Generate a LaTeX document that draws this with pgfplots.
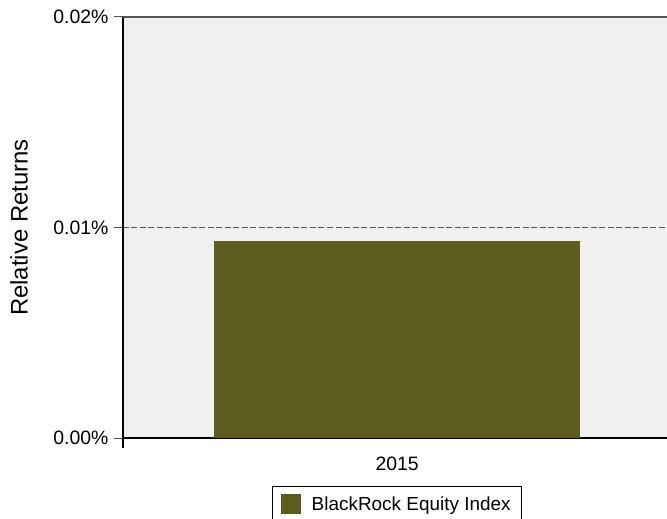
\documentclass[border=0pt]{standalone}
\usepackage{pgfplots}
\pgfplotsset{compat=1.18}
\usepackage{fontspec}
\setmainfont{Liberation Sans}

\definecolor{barolive}{RGB}{93,93,32}
\definecolor{plotbg}{RGB}{240,240,240}
\definecolor{gridgray}{RGB}{85,85,85}

\begin{document}
\begin{tikzpicture}
\begin{axis}[
    scale only axis,
    width=544bp, height=421bp,
    xmin=-0.504, xmax=0.496,
    ymin=0, ymax=0.02,
    axis background/.style={fill=plotbg},
    ybar, bar width=366bp,
    axis x line*=bottom, axis y line*=left,
    x axis line style={-, line width=2bp, black},
    y axis line style={-, line width=1.2bp, black},
    xtick={0}, xticklabels={2015},
    major x tick style={draw=none},
    extra x ticks={-0.504}, extra x tick labels={},
    extra x tick style={major tick length=10bp, tick align=outside, major x tick style={draw=black, line width=1.2bp}},
    ytick={0,0.01,0.02},
    yticklabels={0.00\%,0.01\%,0.02\%},
    scaled y ticks=false,
    tick align=outside,
    major tick length=9bp,
    ytick style={gridgray, line width=1bp},
    ymajorgrids,
    major grid style={gridgray, line width=0.9bp, dash pattern=on 6bp off 2.5bp},
    extra y ticks={0.02}, extra y tick labels={},
    extra y tick style={major grid style={solid, gridgray, line width=2bp}},
    tick label style={font=\fontsize{19.5}{23}\selectfont},
    xticklabel style={yshift=-6bp},
    yticklabel style={xshift=-2bp},
    ylabel={Relative Returns},
    ylabel style={font=\fontsize{24}{28}\selectfont, at={(axis description cs:-0.191,0.5)}, anchor=center},
    legend style={at={(axis description cs:0.504,-0.114)}, anchor=north, draw=black, line width=0.8bp,
        font=\fontsize{19}{23}\selectfont, inner xsep=8bp, inner ysep=8bp,
        nodes={inner xsep=3bp}},
    legend image code/.code={\fill[barolive] (0bp,-10bp) rectangle (20bp,10bp); \path (28bp,0bp);},
]
\addplot[fill=barolive, draw=none] coordinates {(0,0.00938)};
\addlegendentry{BlackRock Equity Index}
\end{axis}
\pgfresetboundingbox
\path[use as bounding box] (-123bp,-81bp) rectangle (544bp,438bp);
\end{tikzpicture}
\end{document}
